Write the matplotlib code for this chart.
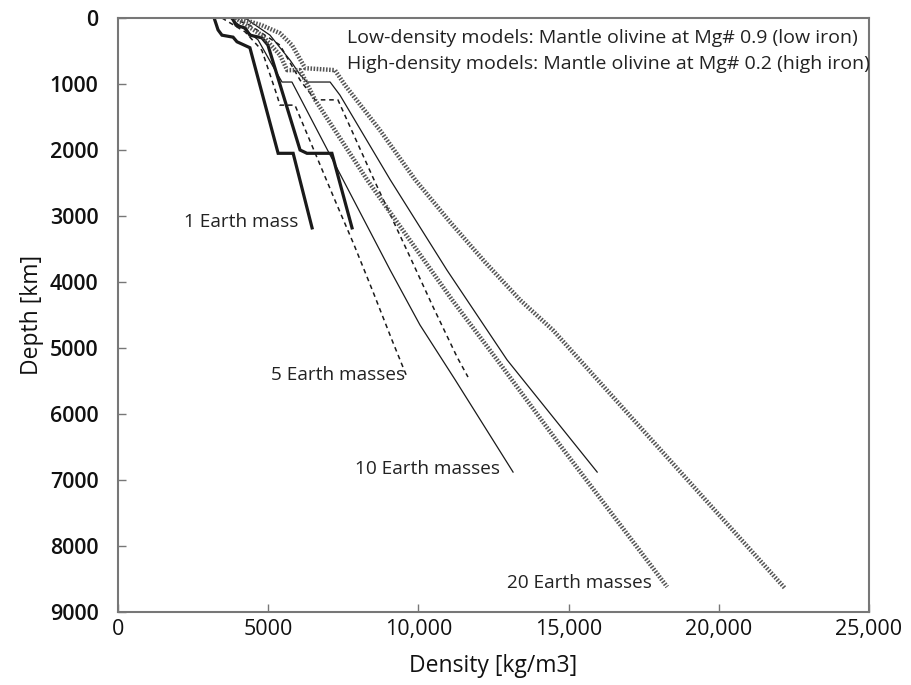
import matplotlib
matplotlib.use("Agg")
import matplotlib.pyplot as plt

plt.rcParams['font.family'] = ['Open Sans', 'DejaVu Sans']

# density [kg/m3] and depth [km]
# 1 Earth mass
rho_1_low = [3200, 3330, 3460, 3830, 3960, 4390, 5330, 5830, 6460]
dep_1_low = [0, 180, 260, 290, 360, 450, 2050, 2050, 3180]
rho_1_high = [3800, 3930, 4230, 4390, 4790, 4990, 6060, 6290, 7120, 7790]
dep_1_high = [0, 110, 150, 260, 300, 410, 2000, 2050, 2050, 3180]

# 5 Earth masses
rho_5_low = [3460, 4230, 4790, 5290, 5390, 5890, 6620, 7220, 7860, 8490, 9120, 9620]
dep_5_low = [0, 210, 490, 1170, 1320, 1320, 2110, 2760, 3440, 4150, 4880, 5440]
rho_5_high = [3800, 4390, 5390, 6060, 6560, 7320, 8520, 9720, 10490, 11290, 11650]
dep_5_high = [0, 110, 410, 940, 1240, 1240, 2450, 3620, 4380, 5140, 5440]

# 10 Earth masses
rho_10_low = [3730, 4660, 5230, 5460, 5790, 7490, 9060, 10050, 11220, 13150]
dep_10_low = [0, 330, 790, 970, 970, 2450, 3820, 4650, 5480, 6880]
rho_10_high = [4230, 5060, 5730, 6060, 6290, 7060, 7390, 9060, 10950, 12950, 15950]
dep_10_high = [0, 260, 640, 860, 970, 970, 1170, 2450, 3820, 5180, 6880]

# 20 Earth masses
rho_20_low = [3900, 4790, 5390, 5630, 6060, 6560, 8290, 11120, 12620, 14710, 18280]
dep_20_low = [0, 260, 560, 790, 790, 1240, 2450, 4270, 5180, 6470, 8620]
rho_20_high = [4000, 4790, 5390, 5790, 6230, 7220, 7560, 8720, 9890, 11050, 12220,
               13380, 14480, 22200]
dep_20_high = [0, 110, 230, 410, 760, 790, 1020, 1700, 2450, 3090, 3700,
               4270, 4730, 8640]

mass_labels = ["1 Earth mass", "5 Earth masses", "10 Earth masses", "20 Earth masses"]
label_rho = [6000, 9550, 12720, 17780]
label_dep = [3090, 5410, 6830, 8560]

note_lines = ["Low-density models: Mantle olivine at Mg# 0.9 (low iron)",
              "High-density models: Mantle olivine at Mg# 0.2 (high iron)"]

x_ticks = [0, 5000, 10000, 15000, 20000, 25000]
x_ticklabels = ["0", "5000", "10,000", "15,000", "20,000", "25,000"]
y_ticks = list(range(0, 9001, 1000))

fig = plt.figure(figsize=(9.12, 6.85), dpi=100)
ax = fig.add_axes([0.1294, 0.1066, 0.8235, 0.8671])

ink = "#1a1a1a"
thick = dict(color=ink, lw=2.3, solid_joinstyle="miter")
dashed = dict(color=ink, lw=1.1, dashes=(3, 2.5))
thin = dict(color=ink, lw=0.9)
dotted = dict(color="#555555", lw=3.2, dashes=(0.35, 0.35))

ax.plot(rho_1_low, dep_1_low, **thick)
ax.plot(rho_1_high, dep_1_high, **thick)
ax.plot(rho_5_low, dep_5_low, **dashed)
ax.plot(rho_5_high, dep_5_high, **dashed)
ax.plot(rho_10_low, dep_10_low, **thin)
ax.plot(rho_10_high, dep_10_high, **thin)
ax.plot(rho_20_low, dep_20_low, **dotted)
ax.plot(rho_20_high, dep_20_high, **dotted)

for lab, x, y in zip(mass_labels, label_rho, label_dep):
    ax.text(x, y, lab, ha="right", va="center", fontsize=13.7, color="#222222")

ax.text(7620, 310, note_lines[0], ha="left", va="center", fontsize=14, color="#222222")
ax.text(7620, 690, note_lines[1], ha="left", va="center", fontsize=14, color="#222222")

ax.set_xlim(0, 25000)
ax.set_ylim(9000, 0)
ax.set_xticks(x_ticks)
ax.set_xticklabels(x_ticklabels)
ax.set_yticks(y_ticks)
ax.tick_params(direction="in", length=6, width=1, color="#777777",
               labelsize=15.5, labelcolor="#111111")
ax.tick_params(axis="x", pad=5)
ax.tick_params(axis="y", pad=14)
for t in ax.get_yticklabels():
    t.set_fontweight("semibold")
for sp in ax.spines.values():
    sp.set_color("#777777")
    sp.set_linewidth(1.5)

ax.set_xlabel("Density [kg/m3]", fontsize=16.5, color="#111111", labelpad=10)
ax.set_ylabel("Depth [km]", fontsize=16.5, color="#111111", labelpad=4)

fig.savefig("out.png", dpi=100)
